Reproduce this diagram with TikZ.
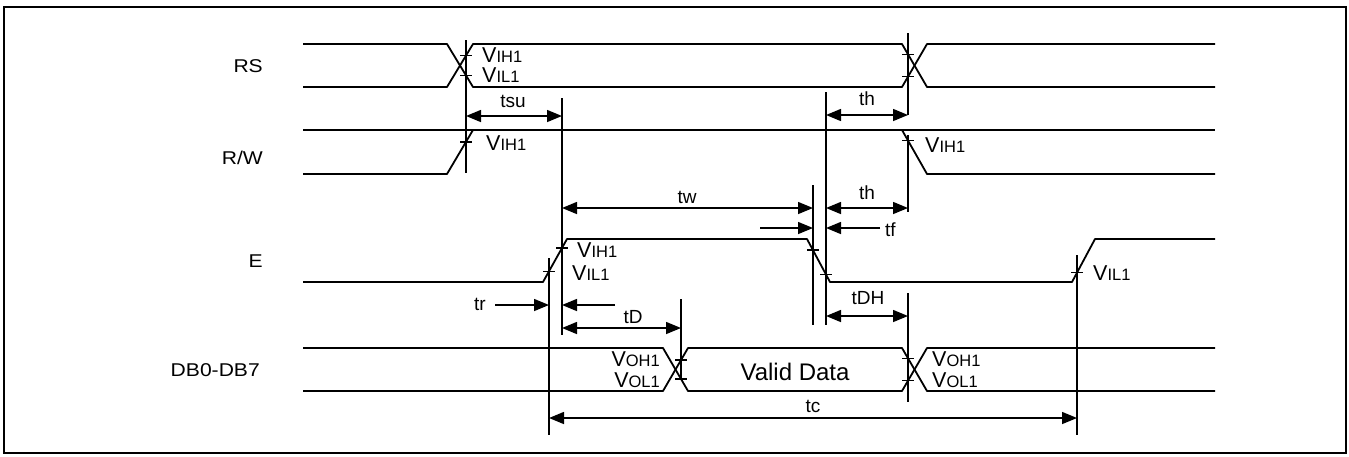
\documentclass[tikz,border=0pt]{standalone}
\usepackage{fontspec}
\setmainfont{Liberation Sans}
\newfontfamily\widesans{Liberation Sans}[FakeStretch=1.14]
\usetikzlibrary{arrows.meta, positioning, calc}
\tikzset{
  frame/.style={line width=2.8pt},
  signal/.style={line width=1.8pt,line join=round},
  guide/.style={line width=1.5pt},
  tick/.style={line width=1.5pt},
  dim/.style={line width=1.5pt,{Triangle[length=15pt,width=12pt]}-{Triangle[length=15pt,width=12pt]}},
  dimto/.style={line width=1.5pt,-{Triangle[length=15pt,width=12pt]}},
  signame/.style={anchor=base east,inner sep=0pt,font=\widesans\fontsize{18.5}{18.5}\selectfont},
  tlabel/.style={anchor=base,inner sep=0pt,font=\fontsize{19}{19}\selectfont},
  level/.style={anchor=base west,inner sep=0pt},
  levelr/.style={anchor=base east,inner sep=0pt},
}
\newcommand{\lvl}[1]{{\fontsize{21.5}{21.5}\selectfont V}{\fontsize{16.5}{16.5}\selectfont #1}}

\begin{document}
\begin{tikzpicture}[x=1pt,y=-1pt]
	\useasboundingbox (0,0) rectangle (1349,456);
	\draw[frame] (4,7) rectangle (1346,453);
	% signal names
	\node[signame] (rs) at (263,72) {RS};
	\node[signame] (rw) at (263,164) {R/W};
	\node[signame] (en) at (263,267) {E};
	\node[signame] (db) at (260,376) {DB0-DB7};
	% waveforms
	\draw[signal] (303,44) -- (447,44) -- (473,87) -- (902,87) -- (927,44) -- (1215,44);
	\draw[signal] (303,87) -- (447,87) -- (473,44) -- (902,44) -- (927,87) -- (1215,87);
	\draw[signal] (303,130) -- (1215,130);
	\draw[signal] (303,174) -- (447,174) -- (473,130);
	\draw[signal] (902,130) -- (927,174) -- (1215,174);
	\draw[signal] (303,282) -- (543,282) -- (567,239) -- (807,239) -- (830,282)
		-- (1072,282) -- (1095,239) -- (1215,239);
	\draw[signal] (303,348) -- (663,348) -- (688,391) -- (902,391) -- (927,348) -- (1215,348);
	\draw[signal] (303,391) -- (663,391) -- (688,348) -- (902,348) -- (927,391) -- (1215,391);
	\node[font=\fontsize{24}{24}\selectfont,inner sep=0pt] (valid) at (795,372) {Valid Data};
	% reference lines
	\draw[guide] (466,40) -- (466,173);
	\draw[guide] (562,98) -- (562,335);
	\draw[guide] (549,258) -- (549,435);
	\draw[guide] (813,185) -- (813,325);
	\draw[guide] (826,92) -- (826,325);
	\draw[guide] (908,33) -- (908,115);
	\draw[guide] (908,135) -- (908,212);
	\draw[guide] (908,293) -- (908,402);
	\draw[guide] (681,299) -- (681,380);
	\draw[guide] (1077,255) -- (1077,435);
	% level ticks
	\foreach \x/\y in {466/55.6,466/75.4,466/141.8,908/54.3,908/76.7,908/140.6,
		549/271.3,562/248,813/250.2,826/274.5,1077/272.7,681/360,681/379,908/358.3,908/380.7}
		\draw[tick] (\x-6,\y) -- (\x+6,\y);
	% levels
	\node[level] (rs-ih) at (482,62) {\lvl{IH1}};
	\node[level] (rs-il) at (482,82) {\lvl{IL1}};
	\node[level] (rw-ih) at (486,150) {\lvl{IH1}};
	\node[level] (rw-ih2) at (925,152) {\lvl{IH1}};
	\node[level] (en-ih) at (577,257) {\lvl{IH1}};
	\node[level] (en-il) at (572,280) {\lvl{IL1}};
	\node[level] (en-il2) at (1093,280) {\lvl{IL1}};
	\node[levelr] (db-oh) at (660,366) {\lvl{OH1}};
	\node[levelr] (db-ol) at (660,387) {\lvl{OL1}};
	\node[level] (db-oh2) at (932,366) {\lvl{OH1}};
	\node[level] (db-ol2) at (932,387) {\lvl{OL1}};
	% timing dimensions
	\coordinate (su-a) at (466,116); \coordinate (su-b) at (562,116);
	\coordinate (h1-a) at (826,115); \coordinate (h1-b) at (908,115);
	\coordinate (w-a) at (562,208); \coordinate (w-b) at (813,208);
	\coordinate (h2-a) at (826,208); \coordinate (h2-b) at (908,208);
	\coordinate (f-a) at (760,228); \coordinate (f-b) at (813,228);
	\coordinate (f-c) at (880,228); \coordinate (f-d) at (826,228);
	\coordinate (r-a) at (495,305); \coordinate (r-b) at (549,305);
	\coordinate (r-c) at (615,305); \coordinate (r-d) at (562,305);
	\coordinate (d-a) at (562,328); \coordinate (d-b) at (681,328);
	\coordinate (dh-a) at (826,316); \coordinate (dh-b) at (908,316);
	\coordinate (c-a) at (549,418); \coordinate (c-b) at (1077,418);
	\draw[dim] (su-a) -- (su-b);
	\draw[dim] (h1-a) -- (h1-b);
	\draw[dim] (w-a) -- (w-b);
	\draw[dim] (h2-a) -- (h2-b);
	\draw[dimto] (f-a) -- (f-b);
	\draw[dimto] (f-c) -- (f-d);
	\draw[dimto] (r-a) -- (r-b);
	\draw[dimto] (r-c) -- (r-d);
	\draw[dim] (d-a) -- (d-b);
	\draw[dim] (dh-a) -- (dh-b);
	\draw[dim] (c-a) -- (c-b);
	\node[tlabel] (tsu) at (513,107) {tsu};
	\node[tlabel] (th1) at (867,105) {th};
	\node[tlabel] (tw) at (687,203) {tw};
	\node[tlabel] (th2) at (867,199) {th};
	\node[tlabel,anchor=base west] (tf) at (885,236) {tf};
	\node[tlabel] (tr) at (480,310) {tr};
	\node[tlabel] (tD) at (633,323) {tD};
	\node[tlabel] (tDH) at (868,304) {tDH};
	\node[tlabel] (tc) at (813,412) {tc};
\end{tikzpicture}
\end{document}
